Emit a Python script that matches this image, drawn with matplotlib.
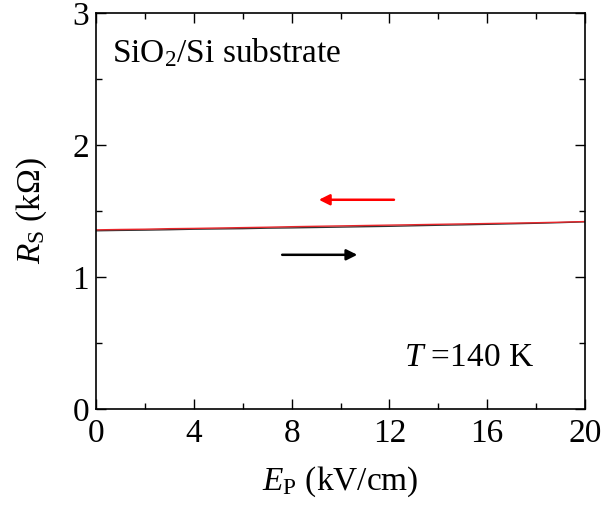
import numpy as np
import matplotlib
matplotlib.use('Agg')
from matplotlib import pyplot as plt

plt.rcParams['font.family'] = ['Liberation Serif', 'DejaVu Serif']
plt.rcParams['mathtext.fontset'] = 'custom'
plt.rcParams['mathtext.rm'] = 'Liberation Serif'
plt.rcParams['mathtext.it'] = 'Liberation Serif:italic'

# field sweep (kV/cm) and sheet resistance (kOhm), up and down sweeps
ep = [0, 1, 2, 3, 4, 5, 6, 7, 8, 9, 10, 11, 12, 13, 14, 15, 16, 17, 18, 19, 20]
rs_up = [1.350, 1.353, 1.355, 1.358, 1.362, 1.364, 1.366, 1.370, 1.372, 1.375, 1.378,
         1.381, 1.384, 1.388, 1.392, 1.395, 1.399, 1.403, 1.407, 1.412, 1.418]
rs_down = [1.357, 1.360, 1.362, 1.366, 1.368, 1.371, 1.374, 1.377, 1.381, 1.384, 1.387,
           1.390, 1.393, 1.396, 1.399, 1.402, 1.405, 1.408, 1.411, 1.415, 1.420]

fig = plt.figure(figsize=(6.02, 5.09), dpi=100)
ax = fig.add_axes([0.1595, 0.1965, 0.8123, 0.778])

ax.plot(ep, rs_up, color='#333333', lw=1.0)
ax.plot(ep, rs_down, color='#e8262b', lw=1.0)

ax.annotate('', xy=(9.0, 1.585), xytext=(12.3, 1.585),
            arrowprops=dict(arrowstyle='-|>', color='red', lw=1.8, mutation_scale=16))
ax.annotate('', xy=(10.8, 1.168), xytext=(7.5, 1.168),
            arrowprops=dict(arrowstyle='-|>', color='black', lw=1.8, mutation_scale=16))

ax.text(0.65, 2.70, r'SiO$_2$/Si substrate', fontsize=24, va='center')
ax.text(12.6, 0.39, r'$T$ =140 K', fontsize=24, va='center')

ax.set_xlim(0, 20)
ax.set_ylim(0, 3)
ax.set_xticks([0, 4, 8, 12, 16, 20])
ax.set_xticks(np.arange(0, 21, 2), minor=True)
ax.set_yticks([0, 1, 2, 3])
ax.set_yticks(np.arange(0, 3.01, 0.5), minor=True)
ax.tick_params(which='both', direction='in', top=True, right=True, labelsize=24, width=1.0)
ax.tick_params(which='major', length=7, pad=5)
ax.tick_params(axis='x', which='major', pad=7)
ax.tick_params(which='minor', length=4)
for s in ax.spines.values():
    s.set_linewidth(1.2)

ax.set_xlabel(r'$E_{\rm P}$ (kV/cm)', fontsize=24, labelpad=11)
ax.set_ylabel(r'$R_{\rm S}$ (k$\Omega$)', fontsize=24, labelpad=17)

fig.savefig('out.png', dpi=100)
